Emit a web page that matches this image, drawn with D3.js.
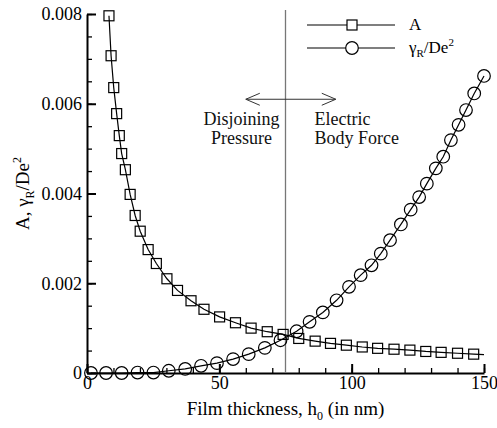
<!DOCTYPE html>
<html>
<head>
<meta charset="utf-8">
<script src="https://cdn.jsdelivr.net/npm/d3@7"></script>
<style>
  body { margin: 0; background: #fff; }
  .axis path, .axis line { stroke: #000; }
</style>
</head>
<body>
<div id="chart-area"></div>
<script>
// film thickness (nm) and A values, square markers
var hA = [8.3, 9.1, 10.1, 11.2, 12.2, 13.1, 14.5, 16.3, 18.2, 20.1, 23.1, 26.2, 30.2, 34.2, 39.3, 44.2,
    50.1, 56.1, 62.0, 68.1, 74.1, 80.0, 86.2, 92.0, 98.0, 104.0, 109.8, 116.0, 122.0, 128.0, 133.8, 140.0, 146.1];
var aVals = [0.00796, 0.00707, 0.00636, 0.00578, 0.00529, 0.00489, 0.00453, 0.00398, 0.00351, 0.00316,
    0.00275, 0.00244, 0.00210, 0.00184, 0.00161, 0.00142, 0.00125, 0.00112, 0.00100, 0.00092, 0.00086,
    0.00077, 0.00071, 0.00066, 0.00062, 0.00058, 0.00055, 0.00053, 0.00051, 0.00048, 0.00046, 0.00044, 0.00042];
// the A curve runs on past the last marker to the edge
var hAEnd = 150;
var aEnd = 0.00041;

// gamma_R / De^2, circle markers
var hG = [1.5, 7.2, 13.1, 19.1, 25.1, 30.9, 37.1, 43.1, 49.1, 55.2, 61.1, 67.2, 73.1, 79.2, 84.1, 89.1,
    94.3, 99.0, 103.4, 107.5, 111.0, 114.5, 118.6, 122.3, 125.5, 128.4, 131.8, 134.6, 137.5, 140.4, 143.2, 146.3, 150.0];
var gVals = [0, 0, 0, 0.00001, 0.00001, 0.00005, 0.00009, 0.00016, 0.00022, 0.00031, 0.00042, 0.00056,
    0.00073, 0.00093, 0.00114, 0.00135, 0.00162, 0.00192, 0.00218, 0.00240, 0.00266, 0.00296, 0.00331,
    0.00364, 0.00392, 0.00422, 0.00456, 0.00482, 0.00519, 0.00553, 0.00586, 0.00623, 0.00662];

var xTicks = [0, 50, 100, 150];
var yTicks = [0, 0.002, 0.004, 0.006, 0.008];
var xMinor = d3.range(0, 151, 10);
var yMinor = d3.range(0, 0.00801, 0.0005);

var dividerH = 75;
var arrowFrom = 60, arrowTo = 94, arrowY = 0.0061;

var serif = '"Liberation Serif"';

var margin = { top: 14, right: 13, bottom: 55, left: 87 };
var width = 497 - margin.left - margin.right;
var height = 428 - margin.top - margin.bottom;

var svg = d3.select('#chart-area')
    .append('svg')
    .attr('width', 497)
    .attr('height', 428);

var graph = svg.append('g')
    .attr('transform', 'translate(' + margin.left + ',' + margin.top + ')');

var x = d3.scaleLinear().domain([0, 150]).range([0, width]);
var y = d3.scaleLinear().domain([0, 0.008]).range([height, 0]);

// minor ticks
graph.append('g')
    .attr('class', 'axis minor')
    .attr('transform', 'translate(0,' + height + ')')
    .call(d3.axisBottom(x).tickValues(xMinor).tickSize(-5).tickFormat(''))
    .call(g => g.select('.domain').remove())
    .selectAll('line').attr('stroke-width', 1.3);
graph.append('g')
    .attr('class', 'axis minor')
    .call(d3.axisLeft(y).tickValues(yMinor).tickSize(-5).tickFormat(''))
    .call(g => g.select('.domain').remove())
    .selectAll('line').attr('stroke-width', 1.3);

// major axes
var xAxis = graph.append('g')
    .attr('class', 'axis')
    .attr('transform', 'translate(0,' + height + ')')
    .call(d3.axisBottom(x).tickValues(xTicks).tickSize(-9).tickSizeOuter(0).tickPadding(3)
        .tickFormat(d3.format('d')));
xAxis.selectAll('text').attr('fill', '#000').style('font-size', '18px');
xAxis.selectAll('line').attr('stroke-width', 2);
xAxis.select('.domain').attr('stroke-width', 2);

var yAxis = graph.append('g')
    .attr('class', 'axis')
    .call(d3.axisLeft(y).tickValues(yTicks).tickSize(-9).tickSizeOuter(0).tickPadding(5)
        .tickFormat(function (d) { return d === 0 ? '0' : d3.format('.3f')(d); }));
yAxis.selectAll('text').attr('fill', '#000').style('font-size', '18px');
yAxis.selectAll('line').attr('stroke-width', 2);
yAxis.select('.domain').attr('stroke-width', 2);

// divider line and arrows
graph.append('line')
    .attr('x1', x(dividerH)).attr('x2', x(dividerH))
    .attr('y1', -4).attr('y2', height)
    .attr('stroke', '#777').attr('stroke-width', 1.3);

graph.append('line')
    .attr('x1', x(arrowFrom)).attr('x2', x(arrowTo))
    .attr('y1', y(arrowY)).attr('y2', y(arrowY))
    .attr('stroke', '#333').attr('stroke-width', 1);
graph.append('path')
    .attr('d', 'M' + (x(arrowFrom) + 14) + ',' + (y(arrowY) - 6) + 'L' + x(arrowFrom) + ',' + y(arrowY) +
        'L' + (x(arrowFrom) + 14) + ',' + (y(arrowY) + 6))
    .attr('fill', 'none').attr('stroke', '#333').attr('stroke-width', 1);
graph.append('path')
    .attr('d', 'M' + (x(arrowTo) - 14) + ',' + (y(arrowY) - 6) + 'L' + x(arrowTo) + ',' + y(arrowY) +
        'L' + (x(arrowTo) - 14) + ',' + (y(arrowY) + 6))
    .attr('fill', 'none').attr('stroke', '#333').attr('stroke-width', 1);

var note = graph.append('g').attr('fill', '#111');
note.append('text').attr('x', x(dividerH) - 44).attr('y', 111).attr('text-anchor', 'middle').text('Disjoining');
note.append('text').attr('x', x(dividerH) - 44).attr('y', 130).attr('text-anchor', 'middle').text('Pressure');
note.append('text').attr('x', x(dividerH) + 29).attr('y', 111).text('Electric');
note.append('text').attr('x', x(dividerH) + 29).attr('y', 130).text('Body Force');
note.selectAll('text').style('font-size', '18px');

// curves
var lineA = d3.line().x(d => x(d[0])).y(d => y(d[1]));
var aPts = hA.map((h, i) => [h, aVals[i]]);
var gPts = hG.map((h, i) => [h, gVals[i]]);

graph.append('path')
    .attr('d', lineA(aPts.concat([[hAEnd, aEnd]])))
    .attr('fill', 'none').attr('stroke', '#000').attr('stroke-width', 1.2);
graph.append('path')
    .attr('d', lineA(gPts))
    .attr('fill', 'none').attr('stroke', '#000').attr('stroke-width', 1.2);

graph.selectAll('rect.mk')
    .data(aPts)
    .enter()
    .append('rect')
    .attr('class', 'mk')
    .attr('x', d => x(d[0]) - 5)
    .attr('y', d => y(d[1]) - 5)
    .attr('width', 10).attr('height', 10)
    .attr('fill', 'none').attr('stroke', '#000').attr('stroke-width', 1.2);

graph.selectAll('circle.mk')
    .data(gPts)
    .enter()
    .append('circle')
    .attr('class', 'mk')
    .attr('cx', d => x(d[0]))
    .attr('cy', d => y(d[1]))
    .attr('r', 6.3)
    .attr('fill', 'none').attr('stroke', '#000').attr('stroke-width', 1.2);

// legend
var legend = svg.append('g');
legend.append('line').attr('x1', 307).attr('x2', 395).attr('y1', 25).attr('y2', 25)
    .attr('stroke', '#000').attr('stroke-width', 1.2);
legend.append('rect').attr('x', 347).attr('y', 20).attr('width', 10).attr('height', 10)
    .attr('fill', '#fff').attr('stroke', '#000').attr('stroke-width', 1.2);
legend.append('text').attr('x', 409).attr('y', 30).style('font-size', '17px').text('A');

legend.append('line').attr('x1', 307).attr('x2', 395).attr('y1', 48).attr('y2', 48)
    .attr('stroke', '#000').attr('stroke-width', 1.2);
legend.append('circle').attr('cx', 352).attr('cy', 48).attr('r', 6.3)
    .attr('fill', '#fff').attr('stroke', '#000').attr('stroke-width', 1.2);
var lg = legend.append('text').attr('x', 409).attr('y', 53).style('font-size', '17px');
lg.append('tspan').text('γ');
lg.append('tspan').style('font-size', '11px').attr('dy', 4).text('R');
lg.append('tspan').attr('dy', -4).text('/De');
lg.append('tspan').style('font-size', '11px').attr('dy', -7).text('2');

// axis titles
var xt = svg.append('text')
    .attr('x', margin.left + width / 2)
    .attr('y', 415)
    .attr('text-anchor', 'middle')
    .style('font-size', '19px');
xt.append('tspan').text('Film thickness, h');
xt.append('tspan').style('font-size', '12px').attr('dy', 5).text('0');
xt.append('tspan').attr('dy', -5).text(' (in nm)');

var yt = svg.append('text')
    .attr('transform', 'translate(29,' + (margin.top + height / 2) + ') rotate(-90)')
    .attr('text-anchor', 'middle')
    .style('font-size', '19px');
yt.append('tspan').text('A, γ');
yt.append('tspan').style('font-size', '12px').attr('dy', 5).text('R');
yt.append('tspan').attr('dy', -5).text('/De');
yt.append('tspan').style('font-size', '12px').attr('dy', -8).text('2');

// every text in the serif face, set on the element itself
svg.selectAll('text').style('font-family', serif);
</script>
</body>
</html>
